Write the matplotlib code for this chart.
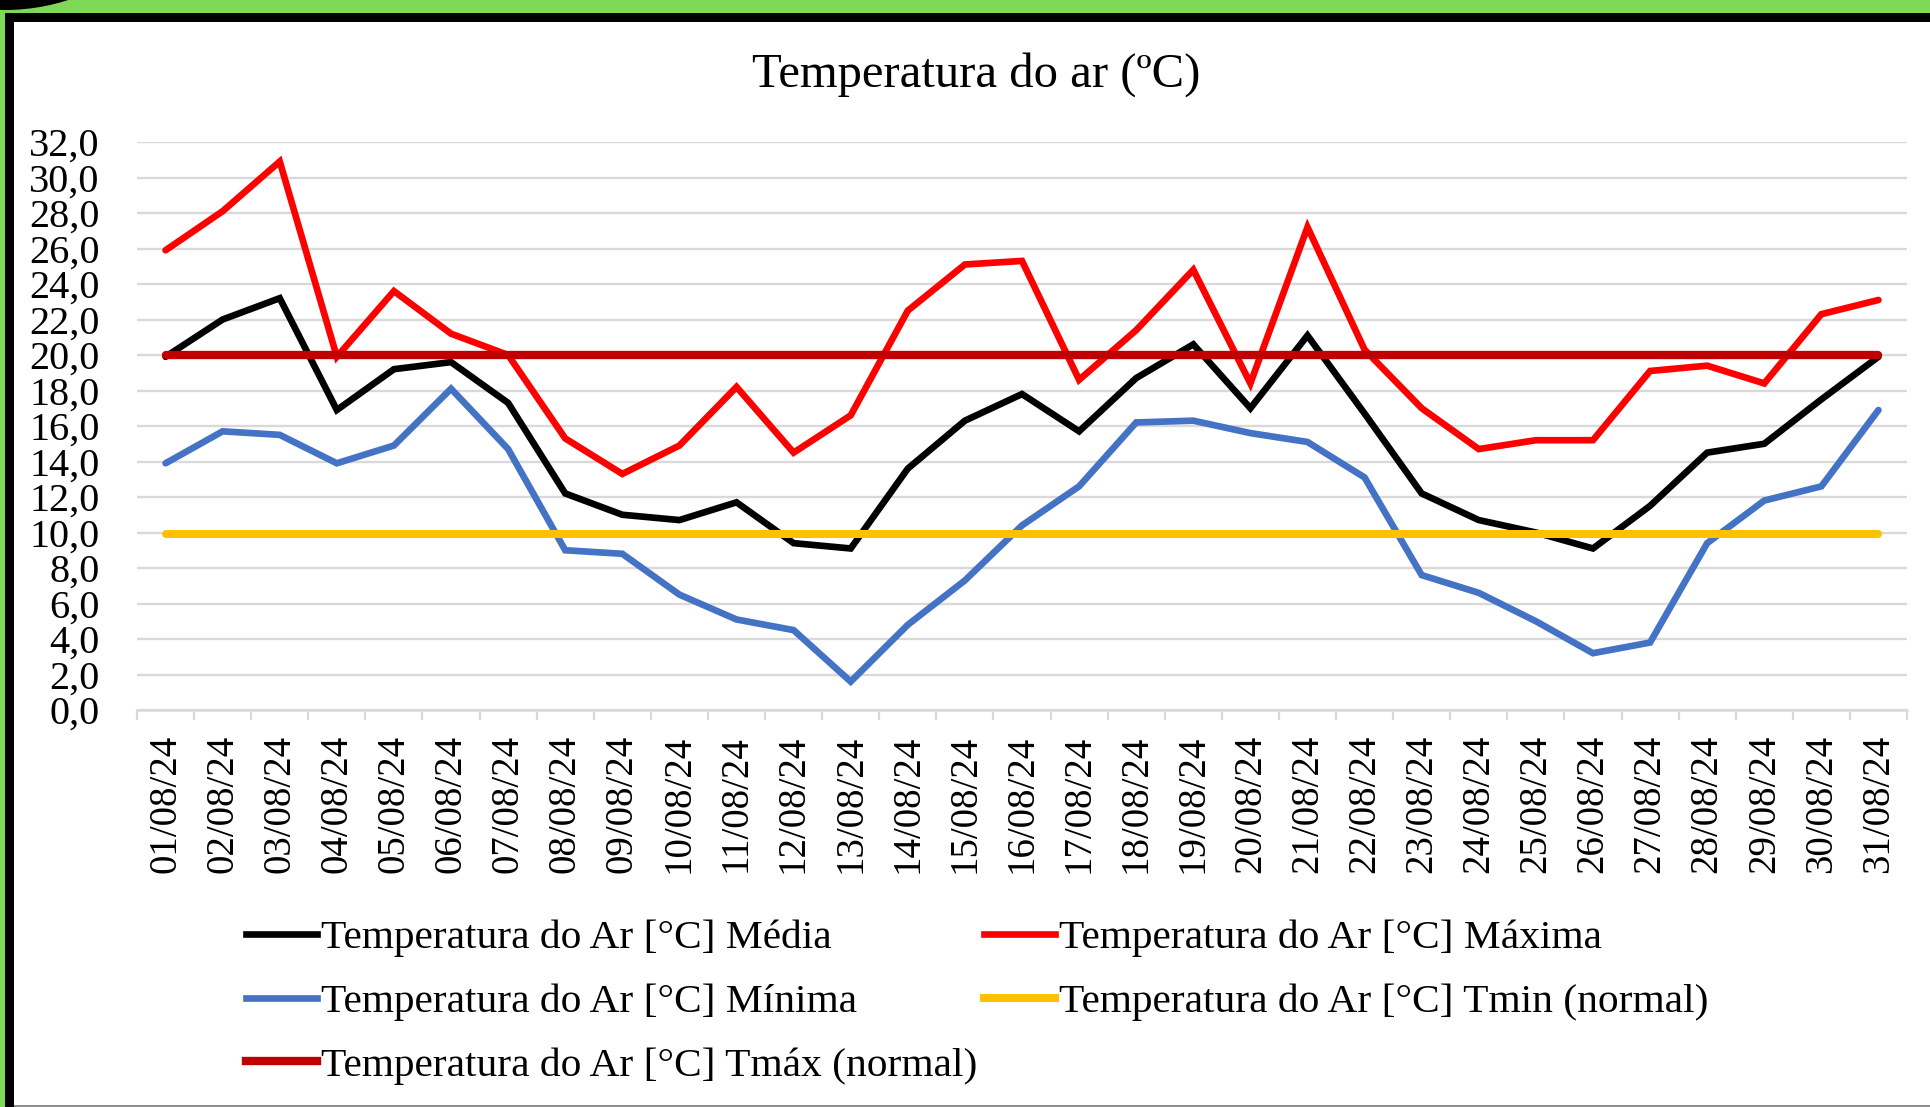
import matplotlib
matplotlib.use("Agg")
import matplotlib.pyplot as plt
from matplotlib.patches import Rectangle, Ellipse
from matplotlib.lines import Line2D

# ---- data ----
days = [f"{d:02d}/08/24" for d in range(1, 32)]

t_media = [19.9, 22.0, 23.2, 16.9, 19.2, 19.6, 17.3, 12.2, 11.0, 10.7,
           11.7, 9.4, 9.1, 13.6, 16.3, 17.8, 15.7, 18.7, 20.6, 17.0,
           21.1, 16.7, 12.2, 10.7, 10.0, 9.1, 11.5, 14.5, 15.0, 17.5, 19.9]
t_maxima = [25.9, 28.1, 30.9, 19.9, 23.6, 21.2, 20.0, 15.3, 13.3, 14.9,
            18.2, 14.5, 16.6, 22.5, 25.1, 25.3, 18.6, 21.4, 24.8, 18.4,
            27.2, 20.3, 17.0, 14.7, 15.2, 15.2, 19.1, 19.4, 18.4, 22.3, 23.1]
t_minima = [13.9, 15.7, 15.5, 13.9, 14.9, 18.1, 14.7, 9.0, 8.8, 6.5,
            5.1, 4.5, 1.6, 4.8, 7.3, 10.4, 12.6, 16.2, 16.3, 15.6,
            15.1, 13.1, 7.6, 6.6, 5.0, 3.2, 3.8, 9.4, 11.8, 12.6, 16.9]
tmin_normal = [9.9] * 31
tmax_normal = [20.0] * 31

y_ticks = [0, 2, 4, 6, 8, 10, 12, 14, 16, 18, 20, 22, 24, 26, 28, 30, 32]
y_tick_labels = [f"{v:.1f}".replace(".", ",") for v in y_ticks]

labels = [
    "Temperatura do Ar [°C] Média",
    "Temperatura do Ar [°C] Máxima",
    "Temperatura do Ar [°C] Mínima",
    "Temperatura do Ar [°C] Tmin (normal)",
    "Temperatura do Ar [°C] Tmáx (normal)",
]
colors = ["#000000", "#FF0000", "#4472C4", "#FFC000", "#C00000"]
widths = [4.8, 4.8, 4.8, 5.8, 6.0]

W, H = 1930, 1107
plt.rcParams["font.family"] = ["Liberation Serif", "DejaVu Serif"]

fig = plt.figure(figsize=(W / 100, H / 100), dpi=100)
fig.patch.set_facecolor("white")


def px_rect(x0, y0, x1, y1, color):
    # pixel box with top-left origin -> figure fraction
    fig.patches.append(Rectangle((x0 / W, 1 - y1 / H), (x1 - x0) / W, (y1 - y0) / H,
                                 transform=fig.transFigure, facecolor=color,
                                 edgecolor="none", zorder=0))


# frame decoration
px_rect(0, 0, W, 13, "#7ED957")
px_rect(0, 0, 5, H, "#7ED957")
px_rect(5, 13, W, 22, "#000000")
px_rect(5, 13, 14, H, "#000000")
px_rect(14, H - 2, W, H, "#8C8C8C")
fig.patches.append(Ellipse((5 / W, 1 + 195 / H), 2 * 205 / W, 2 * 205 / H,
                           transform=fig.transFigure, facecolor="black",
                           edgecolor="none", zorder=1))

ax = fig.add_axes([137 / W, 1 - 710 / H, (1907 - 137) / W, (710 - 142) / H])
ax.set_facecolor("none")

xs = list(range(len(days)))
series = [t_media, t_maxima, t_minima, tmin_normal, tmax_normal]
for vals, lab, c, lw in zip(series, labels, colors, widths):
    ax.plot(xs, vals, color=c, lw=lw, label=lab,
            solid_capstyle="round", solid_joinstyle="miter", zorder=3)

ax.set_xlim(-0.5, len(days) - 0.5)
ax.set_ylim(0, 32)
ax.set_yticks(y_ticks)
ax.set_yticklabels(y_tick_labels, fontsize=29)
ax.set_xticks(xs)
ax.set_xticklabels(days, rotation=90, fontsize=28)
ax.set_xticks([i - 0.5 for i in range(len(days) + 1)], minor=True)

ax.tick_params(axis="y", length=0, pad=27)
ax.tick_params(axis="x", which="major", length=0, pad=18)
ax.tick_params(axis="x", which="minor", length=7, width=1.6, color="#D9D9D9")

ax.grid(axis="y", color="#D9D9D9", lw=1.7, zorder=1)
ax.set_axisbelow(True)
for side in ["left", "right", "top"]:
    ax.spines[side].set_visible(False)
ax.spines["bottom"].set_color("#D9D9D9")
ax.spines["bottom"].set_linewidth(1.8)

fig.text(976 / W, 1 - 75 / H, "Temperatura do ar (ºC)", fontsize=35,
         ha="center", va="center")

# legend filled row by row like the original
order = [0, 2, 4, 1, 3]
leg_handles = [Line2D([0], [0], color=colors[i], lw=widths[i]) for i in order]
fig.legend(leg_handles, [labels[i] for i in order], ncol=2,
           loc="center left", bbox_to_anchor=(246 / W, 1 - 1002 / H),
           frameon=False, fontsize=29.75, handlelength=1.72, handletextpad=0.1,
           columnspacing=0.15, labelspacing=0.63, borderpad=0, borderaxespad=0)

fig.savefig("out.png", dpi=100, facecolor=fig.get_facecolor())
